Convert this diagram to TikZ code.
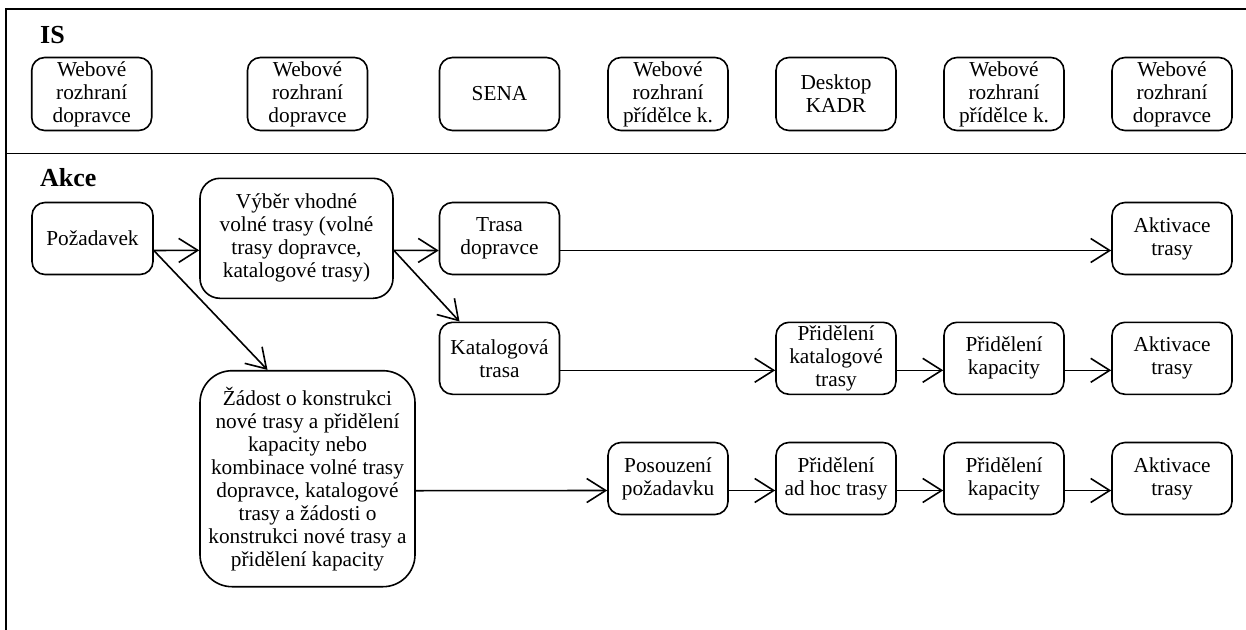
\documentclass[tikz,border=0pt]{standalone}
\usepackage{fontspec}
\setmainfont{Liberation Serif}
\usetikzlibrary{arrows.meta}

\tikzset{
  box/.style={draw, line width=1.6pt, rounded corners=13pt,
    minimum width=120pt, minimum height=72pt, inner sep=0pt,
    align=center, font=\fontsize{21.3}{23}\selectfont},
  conn/.style={line width=1.6pt, -{Straight Barb[length=19pt,width=24pt]}},
  frame/.style={line width=1.8pt},
  lbl/.style={font=\bfseries\fontsize{26}{28}\selectfont, anchor=base west, inner sep=0pt},
}

\begin{document}
\begin{tikzpicture}[x=1pt,y=-1pt]
\useasboundingbox (0,0) rectangle (1246,629);

% swimlane frame
\draw[frame] (6,640) -- (6,9) -- (1250,9);
\draw[frame] (6,153.5) -- (1250,153.5);

% lane titles
\node[lbl] (isl) at (40,43) {IS};
\node[lbl] (akl) at (40,186.7) {Akce};

% information systems
\node[box, minimum height=73pt] (is1) at (91.7,94)  {Webové\\rozhraní\\dopravce};
\node[box, minimum height=73pt] (is2) at (307.5,94) {Webové\\rozhraní\\dopravce};
\node[box, minimum height=73pt] (is3) at (499.5,94) {SENA};
\node[box, minimum height=73pt] (is4) at (668,94)   {Webové\\rozhraní\\přídělce k.};
\node[box, minimum height=73pt] (is5) at (836,94)   {Desktop\\KADR};
\node[box, minimum height=73pt] (is6) at (1004,94)  {Webové\\rozhraní\\přídělce k.};
\node[box, minimum height=73pt] (is7) at (1172,94)  {Webové\\rozhraní\\dopravce};

% actions, first row
\node[box, minimum width=121pt] (req) at (92.5,238.5) {Požadavek};
\node[box, minimum width=193pt, minimum height=120pt, rounded corners=20pt] (vyb) at (296.5,238.3)
  {Výběr vhodné\\volné trasy (volné\\trasy dopravce,\\katalogové trasy)};
\node[box] (trd) at (499.5,238.5) {Trasa\\dopravce};
\node[box] (ak1) at (1172,238.5) {Aktivace\\trasy};

% actions, second row
\node[box] (kat) at (499.5,358.3) {Katalogová\\trasa};
\node[box] (pkt) at (836,358.3)   {Přidělení\\katalogové\\trasy};
\node[box] (pk1) at (1004,358.3)  {Přidělení\\kapacity};
\node[box] (ak2) at (1172,358.3)  {Aktivace\\trasy};

% actions, third row
\node[box, minimum width=215pt, minimum height=216pt, rounded corners=32pt] (zad) at (307.5,478.7)
  {Žádost o konstrukci\\nové trasy a přidělení\\kapacity nebo\\kombinace volné trasy\\dopravce, katalogové\\trasy a žádosti o\\konstrukci nové trasy a\\přidělení kapacity};
\node[box] (pos) at (668,478.5)  {Posouzení\\požadavku};
\node[box] (pah) at (836,478.5)  {Přidělení\\ad hoc trasy};
\node[box] (pk2) at (1004,478.5) {Přidělení\\kapacity};
\node[box] (ak3) at (1172,478.5) {Aktivace\\trasy};

% flow
\draw[conn] ([yshift=-12pt]req.east) -- ([yshift=-12pt]vyb.west);
\draw[conn] ([yshift=-12pt]req.east) -- ([xshift=-40pt]zad.north);
\draw[conn] ([yshift=-12pt]vyb.east) -- ([yshift=-12pt]trd.west);
\draw[conn] ([yshift=-12pt]vyb.east) -- ([xshift=-40pt]kat.north);
\draw[conn] ([yshift=-12pt]trd.east) -- ([yshift=-12pt]ak1.west);

\draw[conn] ([yshift=-12pt]kat.east) -- ([yshift=-12pt]pkt.west);
\draw[conn] ([yshift=-12pt]pkt.east) -- ([yshift=-12pt]pk1.west);
\draw[conn] ([yshift=-12pt]pk1.east) -- ([yshift=-12pt]ak2.west);

\draw[conn] ([yshift=-12pt]zad.east) -- ([yshift=-12pt]pos.west);
\draw[conn] ([yshift=-12pt]pos.east) -- ([yshift=-12pt]pah.west);
\draw[conn] ([yshift=-12pt]pah.east) -- ([yshift=-12pt]pk2.west);
\draw[conn] ([yshift=-12pt]pk2.east) -- ([yshift=-12pt]ak3.west);
\end{tikzpicture}
\end{document}
